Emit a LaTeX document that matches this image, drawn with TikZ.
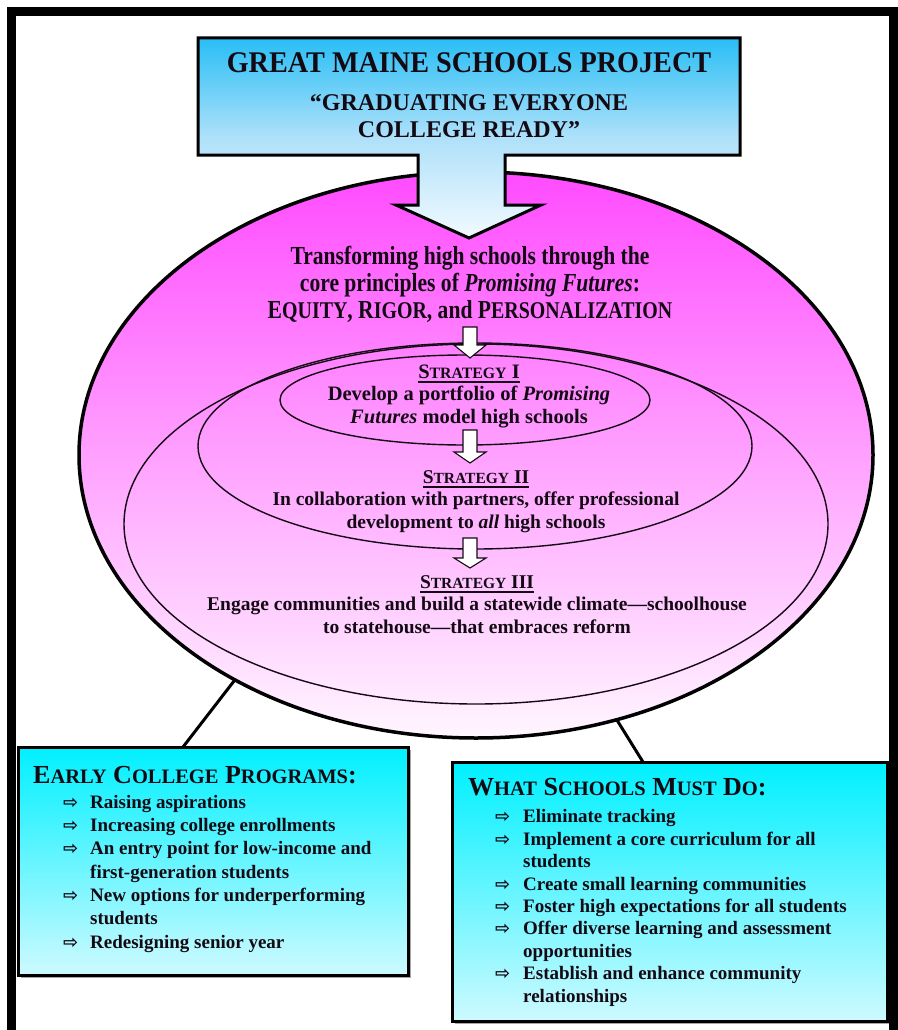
\documentclass[tikz,border=0pt]{standalone}
\usepackage{fontspec}
\setmainfont{Liberation Serif}
\newfontfamily\condA[FakeStretch=0.83]{Liberation Serif}
\newfontfamily\condT[FakeStretch=0.94]{Liberation Serif}
\newfontfamily\symfont{DejaVu Sans}
\usetikzlibrary{shapes.geometric,shadows}
\definecolor{cyA}{RGB}{40,190,245}
\definecolor{cyB}{RGB}{175,225,250}
\definecolor{cyC}{RGB}{242,250,255}
\definecolor{magA}{RGB}{255,75,255}
\definecolor{magB}{RGB}{255,246,255}
\definecolor{bxA}{RGB}{0,240,255}
\definecolor{bxB}{RGB}{205,250,255}
\definecolor{ink}{RGB}{20,10,20}
\newcommand\smc[2]{{\fontsize{#1}{#1}\selectfont #2}}
\newcommand\myul[1]{\setbox0\hbox{#1}\rlap{\rule[-5pt]{\wd0}{1.8pt}}\box0}
\newcommand\bulA{\makebox[27pt][l]{\symfont\fontsize{18}{18}\selectfont ⇨}}
\newcommand\bulB{\makebox[28pt][l]{\symfont\fontsize{18}{18}\selectfont ⇨}}
\newcommand\downarr[4]{\draw[smallarrow] (#1-7,#2) -- (#1+7,#2) -- (#1+7,#3) -- (#1+16,#3) -- (#1,#4) -- (#1-16,#3) -- (#1-7,#3) -- cycle;}
\tikzset{
  smallarrow/.style={draw=ink, line width=1.1, fill=white, line join=miter},
  innerell/.style={draw=ink, ellipse, line width=1.4, inner sep=0, outer sep=0},
  infobox/.style={draw=black, line width=3, rectangle, inner sep=0, outer sep=0, anchor=north west,
    top color=bxA, bottom color=bxB,
    drop shadow={shadow xshift=2.5pt, shadow yshift=-2.5pt, opacity=.35, fill=black}},
  titlefont/.style={font={\condT\fontsize{30}{30}\selectfont\bfseries}, text=ink, inner sep=0},
  subfont/.style={font={\fontsize{24}{27}\selectfont\bfseries}, text=ink, inner sep=0, align=center},
  maintext/.style={font={\condA\fontsize{26}{27}\selectfont\bfseries}, text=ink, inner sep=0, align=center},
  strattext/.style={font={\fontsize{19.5}{22.5}\selectfont\bfseries}, text=ink, inner sep=0, align=center},
  boxhead/.style={font={\fontsize{26}{28}\selectfont\bfseries}, text=ink, inner sep=0, anchor=base west},
  listA/.style={font={\fontsize{19}{23.3}\selectfont\bfseries}, text=ink, inner sep=0, align=left, anchor=base west},
  listB/.style={font={\fontsize{19}{22.4}\selectfont\bfseries}, text=ink, inner sep=0, align=left, anchor=base west},
  connector/.style={draw=black, line width=3}
}
\begin{document}
\begin{tikzpicture}[x=1pt,y=-1pt]
\useasboundingbox (0,0) rectangle (897,1030);
\fill[white] (0,0) rectangle (897,1030);

% big ellipse and strategy ellipses
\node[draw=black, ellipse, line width=3.5, minimum width=794, minimum height=566, inner sep=0, outer sep=0,
      top color=magA, bottom color=magB] (outer) at (476,455) {};
\node[innerell, minimum width=704, minimum height=360] (s3e) at (476,524) {};
\node[innerell, minimum width=554, minimum height=206] (s2e) at (475,446) {};
\node[innerell, minimum width=370, minimum height=90] (s1e) at (465,400) {};

% top callout box with arrow
\path[draw=black, line width=3, line join=miter, top color=cyA, bottom color=cyC, middle color=cyB]
  (198,38) -- (740,38) -- (740,155) -- (505,155) -- (505,205) -- (541,205) -- (469,238)
  -- (396,205) -- (418,205) -- (418,155) -- (198,155) -- cycle;
\node[titlefont, anchor=base] (title) at (469,73) {GREAT MAINE SCHOOLS PROJECT};
\node[subfont, anchor=base] (motto) at (469,137) {“GRADUATING EVERYONE\\COLLEGE READY”};

% main text (anchor = baseline of last line)
\node[maintext, anchor=base] (core) at (470,318) {Transforming high schools through the\\
  core principles of \textit{Promising Futures}:\\
  E\smc{24}{QUITY}, R\smc{24}{IGOR}, and P\smc{24}{ERSONALIZATION}};

\downarr{470}{327}{345}{358}
\node[strattext, anchor=base, font={\fontsize{20.5}{22.5}\selectfont\bfseries}] (s1) at (469,423) {\myul{S\smc{15.8}{TRATEGY} I}\\
  Develop a portfolio of \textit{Promising}\\\textit{Futures} model high schools};
\downarr{470}{430}{452}{463}
\node[strattext, anchor=base] (s2) at (476,528) {\myul{S\smc{15.5}{TRATEGY} II}\\
  In collaboration with partners, offer professional\\development to \textit{all} high schools};
\downarr{470}{538}{558}{568}
\node[strattext, anchor=base] (s3) at (477,633) {\myul{S\smc{15.5}{TRATEGY} III}\\
  Engage communities and build a statewide climate—schoolhouse\\to statehouse—that embraces reform};

% bottom boxes
\node[infobox, minimum width=390, minimum height=228] (ecp) at (18,747) {};
\node[boxhead] (ecph) at (33,783) {E\smc{20.5}{ARLY} C\smc{20.5}{OLLEGE} P\smc{20.5}{ROGRAMS}:};
\node[listA] (ecpl) at (63,948) {\bulA Raising aspirations\\
  \bulA Increasing college enrollments\\
  \bulA An entry point for low-income and\\
  \hspace*{27pt}first-generation students\\
  \bulA New options for underperforming\\
  \hspace*{27pt}students\\
  \bulA Redesigning senior year};

\node[infobox, minimum width=435, minimum height=259] (wsm) at (452,762) {};
\node[boxhead] (wsmh) at (468,795) {W\smc{20.5}{HAT} S\smc{20.5}{CHOOLS} M\smc{20.5}{UST} D\smc{20.5}{O}:};
\node[listB] (wsml) at (495,1002) {\bulB Eliminate tracking\\
  \bulB Implement a core curriculum for all\\
  \hspace*{28pt}students\\
  \bulB Create small learning communities\\
  \bulB Foster high expectations for all students\\
  \bulB Offer diverse learning and assessment\\
  \hspace*{28pt}opportunities\\
  \bulB Establish and enhance community\\
  \hspace*{28pt}relationships};

% connectors
\draw[connector] (outer.223) -- ([xshift=165]ecp.north west);
\draw[connector] (outer.298) -- ([xshift=191]wsm.north west);

% frame
\draw[line width=9, line join=miter] (11,1045) -- (11,12) -- (893,12) -- (893,1045);
\end{tikzpicture}
\end{document}
